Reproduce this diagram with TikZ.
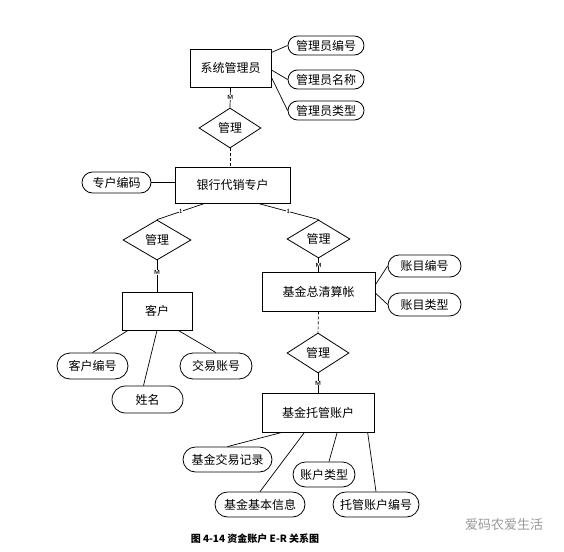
\documentclass[tikz,border=0pt]{standalone}
\usepackage{fontspec}
\newfontfamily\cjk{Noto Sans CJK SC}
\usetikzlibrary{shapes.geometric,shapes.misc,calc}
\begin{document}
\begin{tikzpicture}[x=1pt,y=-1pt,
  every node/.style={font=\cjk\fontsize{12}{14}\selectfont},
  ent/.style={draw,rectangle,line width=0.8pt,inner sep=0pt},
  attr/.style={draw,rounded rectangle,line width=0.8pt,inner sep=0pt},
  rel/.style={draw,diamond,line width=0.8pt,inner sep=0pt},
  lk/.style={line width=0.7pt},
  dsh/.style={line width=0.7pt,dash pattern=on 3pt off 2pt},
  card/.style={fill=white,inner sep=0.4pt,font=\sffamily\bfseries\fontsize{6}{6}\selectfont}]
\useasboundingbox (0,0) rectangle (564,551);
% entities
\node[ent,minimum width=81pt,minimum height=38pt] (sys) at (230.5,68) {系统管理员};
\node[ent,minimum width=115pt,minimum height=36pt] (bank) at (232.5,185) {银行代销专户};
\node[ent,minimum width=70pt,minimum height=38pt] (cust) at (157,311) {客户};
\node[ent,minimum width=113pt,minimum height=39pt] (fund) at (318.5,291.5) {基金总清算帐};
\node[ent,minimum width=112pt,minimum height=39pt] (tg) at (318,412.5) {基金托管账户};
% relations
\node[rel,minimum width=62pt,minimum height=40pt] (r1) at (230,128) {管理};
\node[rel,minimum width=68pt,minimum height=40pt] (r2) at (157,240) {管理};
\node[rel,minimum width=63pt,minimum height=38pt] (r3) at (318.5,239) {管理};
\node[rel,minimum width=62pt,minimum height=40pt] (r4) at (318,353) {管理};
% attributes
\node[attr,minimum width=76pt,minimum height=19pt] (a1) at (326,45.5) {管理员编号};
\node[attr,minimum width=76pt,minimum height=19pt] (a2) at (326,79.5) {管理员名称};
\node[attr,minimum width=76pt,minimum height=19pt] (a3) at (326,110.5) {管理员类型};
\node[attr,minimum width=69pt,minimum height=21pt] (zb) at (116.5,182.5) {专户编码};
\node[attr,minimum width=71pt,minimum height=26pt] (c1) at (92.5,366) {客户编号};
\node[attr,minimum width=71pt,minimum height=27pt] (c2) at (147.5,399.5) {姓名};
\node[attr,minimum width=72pt,minimum height=26pt] (c3) at (216,366) {交易账号};
\node[attr,minimum width=73pt,minimum height=22pt] (f1) at (424.5,266) {账目编号};
\node[attr,minimum width=73pt,minimum height=23pt] (f2) at (424.5,304.5) {账目类型};
\node[attr,minimum width=89pt,minimum height=25pt] (t1) at (227.5,459.5) {基金交易记录};
\node[attr,minimum width=62pt,minimum height=25pt] (t2) at (324,474.5) {账户类型};
\node[attr,minimum width=90pt,minimum height=25pt] (t3) at (260,504.5) {基金基本信息};
\node[attr,minimum width=86pt,minimum height=25pt] (t4) at (376,504.5) {托管账户编号};
% relationship links
\draw[lk] (sys.south) -- node[card]{M} (r1.north);
\draw[dsh] (r1.south) -- (r1.south |- bank.north);
\draw[lk] ($(bank.south west)!0.26!(bank.south east)$) -- node[card]{1} (r2.north);
\draw[lk] ($(bank.south west)!0.72!(bank.south east)$) -- node[card]{1} (r3.north);
\draw[lk] (r2.south) -- node[card,pos=0.4]{M} (cust.north);
\draw[lk] (r3.south) -- node[card,pos=0.5]{M} (r3.south |- fund.north);
\draw[dsh] (fund.south) -- (r4.north);
\draw[lk] (r4.south) -- node[card]{M} (r4.south |- tg.north);
% attribute links
\draw[lk] ($(sys.north east)!0.1!(sys.south east)$) -- (a1.west);
\draw[lk] ($(sys.north east)!0.55!(sys.south east)$) -- (a2.west);
\draw[lk] ($(sys.north east)!0.74!(sys.south east)$) -- (a3.west);
\draw[lk] (zb.east) -- (zb.east -| bank.west);
\draw[lk] ($(cust.south west)!0.09!(cust.south east)$) -- (c1.north);
\draw[lk] (cust.south) -- ([xshift=-4pt]c2.north);
\draw[lk] ($(cust.south west)!0.8!(cust.south east)$) -- (c3.north);
\draw[lk] ($(fund.north east)!0.33!(fund.south east)$) -- (f1.west);
\draw[lk] ($(fund.north east)!0.54!(fund.south east)$) -- (f2.west);
\draw[lk] ($(tg.south west)!0.18!(tg.south east)$) -- (t1.north);
\draw[lk] ($(tg.south west)!0.67!(tg.south east)$) -- ([xshift=5pt]t2.north);
\draw[lk] ($(tg.south west)!0.38!(tg.south east)$) -- (t3.north);
\draw[lk] ($(tg.south west)!0.94!(tg.south east)$) -- (t4.north);
% caption and watermark
\node[font=\cjk\bfseries\fontsize{10}{12}\selectfont] (cap) at (255,539) {图 4-14 资金账户 E-R 关系图};
\node[font=\cjk\fontsize{13}{15}\selectfont,text=black!40] (wm) at (504,525) {爱码农爱生活};
\end{tikzpicture}
\end{document}
